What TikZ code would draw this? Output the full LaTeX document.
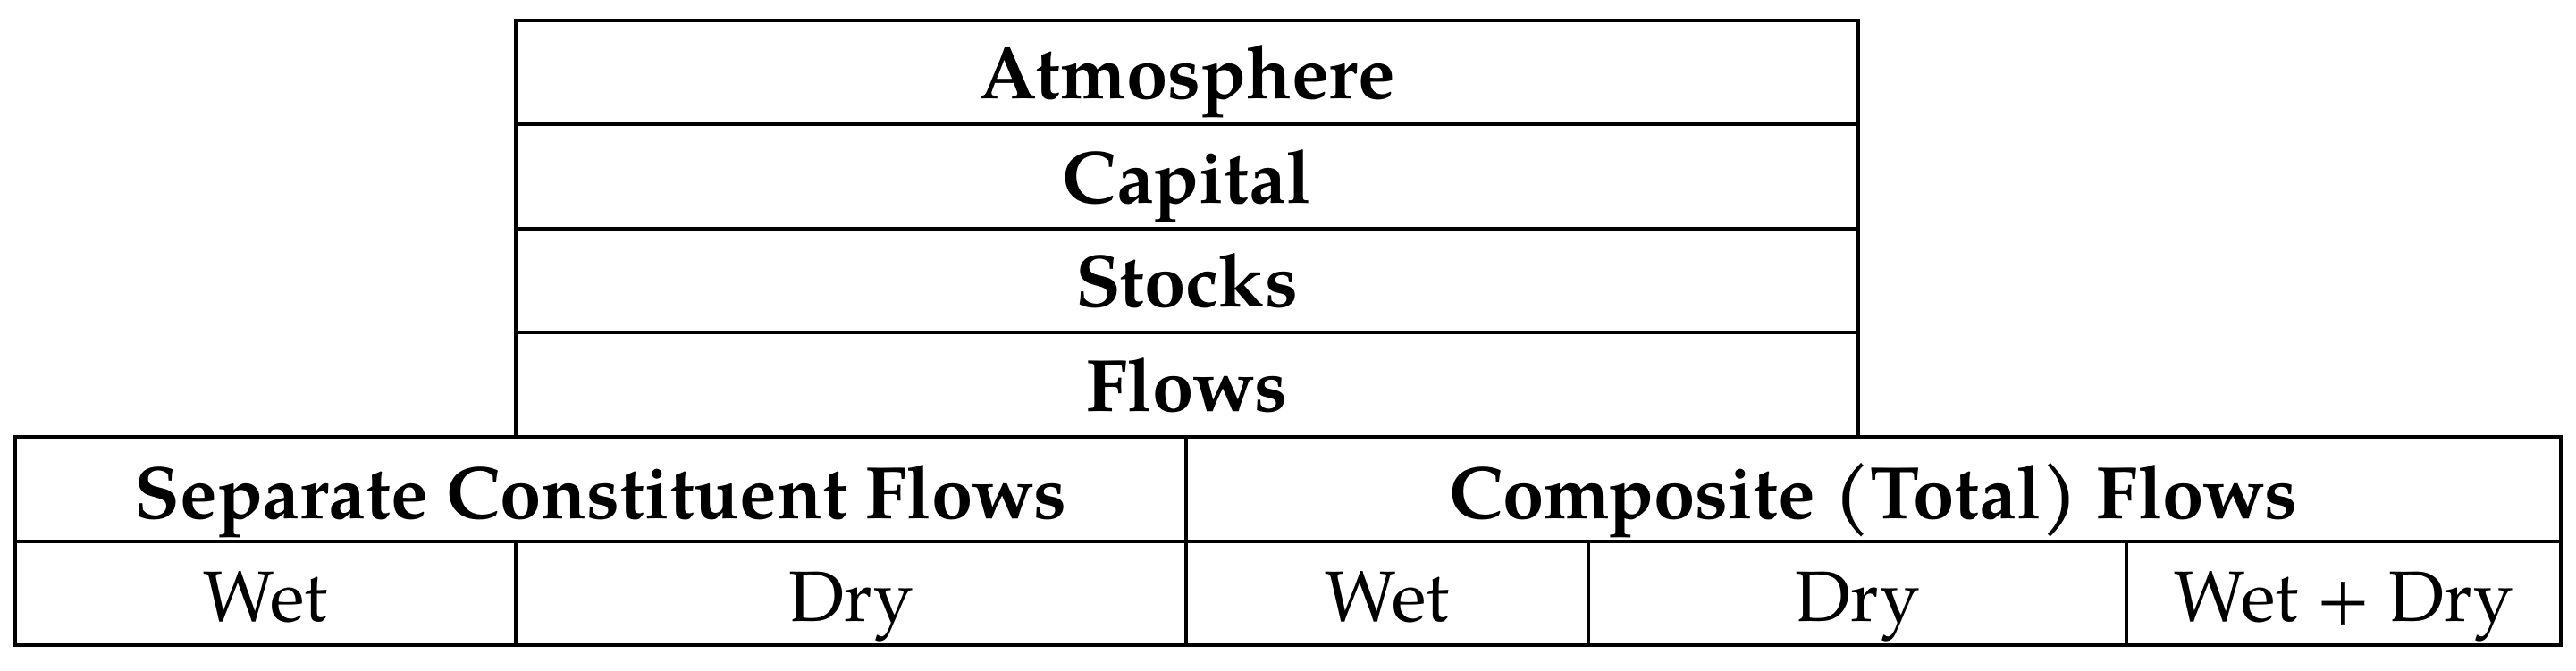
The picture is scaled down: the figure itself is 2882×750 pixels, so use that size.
\documentclass[tikz,border=0pt]{standalone}
\usepackage{fontspec}
\setmainfont{TeX Gyre Pagella}
\begin{document}
\begin{tikzpicture}[x=0.25pt,y=-0.25pt,
  grid/.style={line width=1.17pt, line join=miter},
  hd/.style={font=\fontsize{20.8}{24}\selectfont\bfseries, anchor=base, inner sep=0pt},
  cell/.style={font=\fontsize{20}{24}\selectfont, anchor=base, inner sep=0pt}]
\useasboundingbox (0,0) rectangle (2882,750);
% top stack
\draw[grid] (577,23) rectangle (2079,489);
\draw[grid] (577,139) -- (2079,139);
\draw[grid] (577,256) -- (2079,256);
\draw[grid] (577,372) -- (2079,372);
% bottom table
\draw[grid] (17,489) rectangle (2865,722);
\draw[grid] (17,606) -- (2865,606);
\draw[grid] (1327,489) -- (1327,722);
\draw[grid] (577,606) -- (577,722);
\draw[grid] (1777,606) -- (1777,722);
\draw[grid] (2379,606) -- (2379,722);
% texts
\node[hd] (atm) at (1328,110) {Atmosphere};
\node[hd] (cap) at (1328,227) {Capital};
\node[hd] (stk) at (1328,343) {Stocks};
\node[hd] (flw) at (1328,460) {Flows};
\node[hd] (sep) at (672,580) {Separate Constituent Flows};
\node[hd] (com) at (2096,580) {Composite (Total) Flows};
\node[cell] (w1) at (297,695) {Wet};
\node[cell] (d1) at (952,695) {Dry};
\node[cell] (w2) at (1552,695) {Wet};
\node[cell] (d2) at (2078,695) {Dry};
\node[cell] (wd) at (2622,695) {Wet + Dry};
\end{tikzpicture}
\end{document}
